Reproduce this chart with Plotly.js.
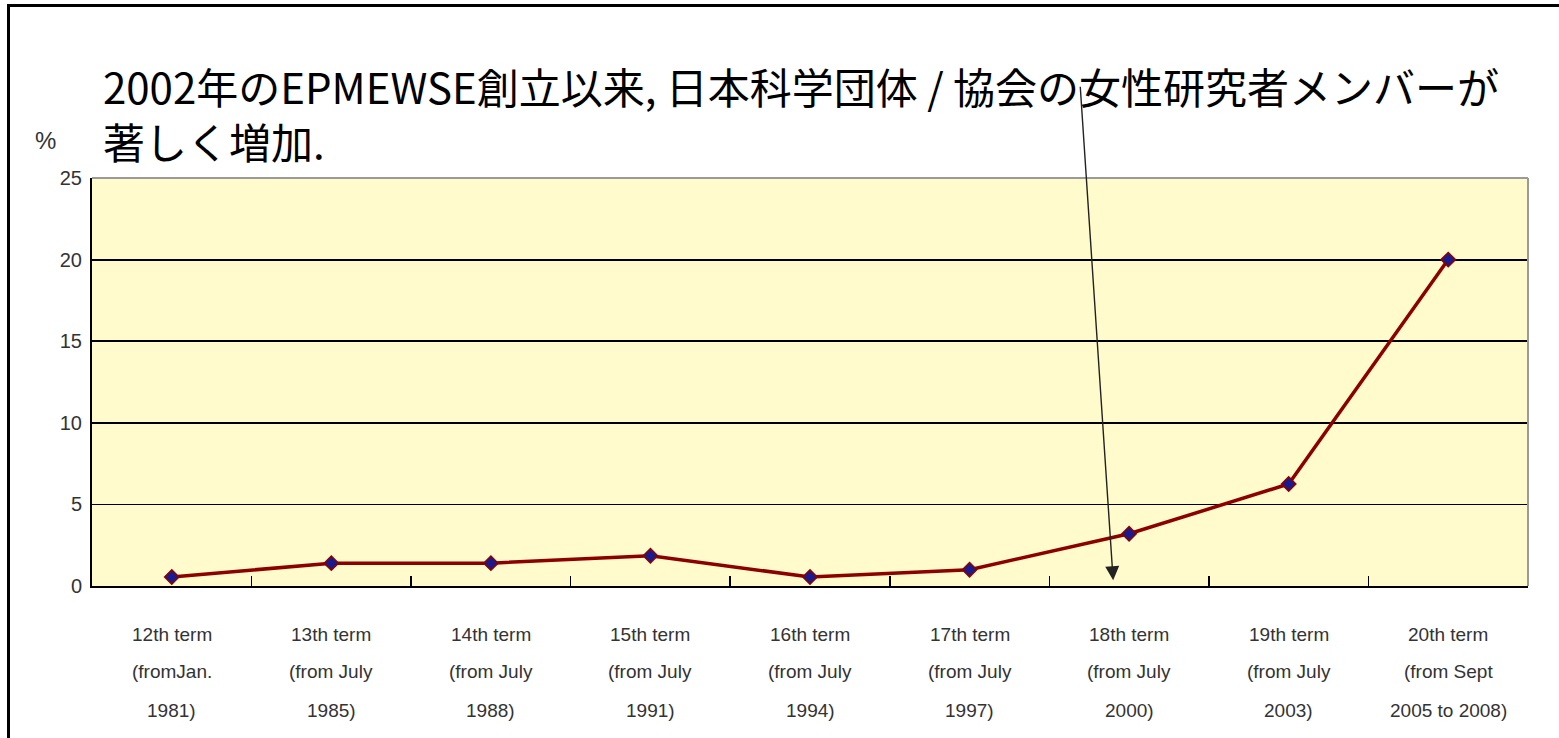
<!DOCTYPE html>
<html>
<head>
<meta charset="utf-8">
<script src="https://cdn.plot.ly/plotly-3.0.1.min.js"></script>
<style>
  html, body { margin: 0; padding: 0; background: #fff; }
  #wrap { position: relative; width: 1559px; height: 738px; overflow: hidden; }
  #chart { position: absolute; left: 0; top: 0; width: 1559px; height: 738px; }
  #frame { position: absolute; left: 7px; top: 4px; width: 1570px; height: 760px;
           border-left: 3px solid #000; border-top: 3px solid #000; pointer-events: none; }
</style>
</head>
<body>
<div id="wrap">
  <div id="chart"></div>
  <div id="frame"></div>
</div>
<script>
// ---- data ----
const terms = ["12th term", "13th term", "14th term", "15th term", "16th term",
               "17th term", "18th term", "19th term", "20th term"];
const periodLine2 = ["(fromJan.", "(from July", "(from July", "(from July", "(from July",
                     "(from July", "(from July", "(from July", "(from Sept"];
const periodLine3 = ["1981)", "1985)", "1988)", "1991)", "1994)",
                     "1997)", "2000)", "2003)", "2005 to 2008)"];
const femalePercent = [0.55, 1.4, 1.4, 1.85, 0.55, 1.0, 3.2, 6.25, 20.0];
const yTicks = [0, 5, 10, 15, 20, 25];
const titleText = "2002年のEPMEWSE創立以来, 日本科学団体 / 協会の女性研究者メンバーが<br>著しく増加.";
const unitLabel = "%";

const narrow = '"Liberation Sans", Arial, sans-serif';
const titleFont = '"Noto Sans CJK JP", "Noto Sans", sans-serif';

const trace = {
  type: "scatter",
  mode: "lines+markers",
  x: terms,
  y: femalePercent,
  line: { color: "#8B0000", width: 3.5 },
  marker: { symbol: "diamond", size: 11, color: "#1a1a8c",
            line: { color: "#8B0000", width: 1.5 } },
  hoverinfo: "x+y",
  showlegend: false
};

const annotations = [];
const labelLines = [terms, periodLine2, periodLine3];
const lineShift = [-48, -85, -124];
labelLines.forEach((arr, li) => {
  arr.forEach((txt, i) => {
    annotations.push({
      xref: "x", yref: "paper", x: i, y: 0,
      xanchor: "center", yanchor: "middle", yshift: lineShift[li],
      text: txt, showarrow: false,
      font: { family: narrow, size: 19, color: "#333" }
    });
  });
});
annotations.push({
  xref: "paper", yref: "paper", x: -0.0327, y: 1.093,
  xanchor: "center", yanchor: "middle", text: unitLabel, showarrow: false,
  font: { family: narrow, size: 24, color: "#333" }
});
// pointer arrow to the 18th term
annotations.push({
  xref: "x", yref: "y", x: 5.9, y: 0.35,
  axref: "pixel", ayref: "pixel", ax: -33, ay: -495,
  text: "", showarrow: true, arrowhead: 2, arrowsize: 2, arrowwidth: 1.4,
  arrowcolor: "#222", standoff: 0
});

const layout = {
  width: 1559, height: 738,
  margin: { l: 92, r: 31, t: 178, b: 152 },
  paper_bgcolor: "#ffffff",
  plot_bgcolor: "#FFFBCC",
  title: {
    text: titleText,
    xref: "container", yref: "container",
    x: 103 / 1559, xanchor: "left",
    y: 1 - 104 / 738, yanchor: "top",
    font: { family: titleFont, size: 42, color: "#000" }
  },
  xaxis: {
    type: "category",
    categoryorder: "array", categoryarray: terms,
    range: [-0.5, 8.5],
    showticklabels: false,
    tickson: "boundaries",
    ticks: "inside", ticklen: 10, tickwidth: 1.5, tickcolor: "#000",
    showgrid: false, zeroline: false,
    showline: true, linecolor: "#000", linewidth: 2,
    fixedrange: true
  },
  yaxis: {
    range: [0, 25],
    tickvals: yTicks,
    ticks: "inside", ticklen: 8, tickwidth: 1.5, tickcolor: "#000",
    ticklabelstandoff: 4,
    tickfont: { family: narrow, size: 20, color: "#333" },
    showgrid: true, gridcolor: "#000", gridwidth: 1.8,
    zeroline: false,
    showline: true, linecolor: "#000", linewidth: 2,
    fixedrange: true
  },
  shapes: [
    { type: "line", xref: "paper", yref: "paper", x0: 0, x1: 1, y0: 1, y1: 1,
      line: { color: "#9a9a9a", width: 2 } },
    { type: "line", xref: "paper", yref: "paper", x0: 1, x1: 1, y0: 0, y1: 1,
      line: { color: "#9a9a9a", width: 2 } }
  ],
  annotations: annotations
};

Plotly.newPlot("chart", [trace], layout, { displayModeBar: false, staticPlot: true });
</script>
</body>
</html>
